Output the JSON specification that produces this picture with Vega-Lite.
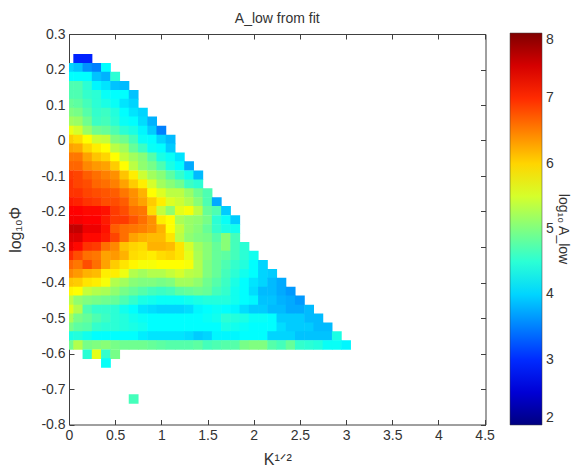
{"$schema":"https://vega.github.io/schema/vega-lite/v6.json","width":416.5,"height":390.5,"autosize":"none","padding":{"left":69,"top":34,"right":87.5,"bottom":43.5},
"title":{"text":"A_low from fit","fontSize":14,"fontWeight":"normal","font":"Liberation Sans","color":"#333","offset":1,"anchor":"middle"},
"config":{"view":{"stroke":null},"axis":{"labelFont":"Liberation Sans","titleFont":"Liberation Sans, DejaVu Sans","labelFontSize":14,"titleFontSize":16,"titleFontWeight":"normal","labelColor":"#333","titleColor":"#333","domainColor":"#404040","tickColor":"#404040","tickSize":-5,"labelPadding":9,"labelFlush":false,"grid":false}},
"data":{"values":[
{"k":0.1,"p":0.23,"v":2.95},{"k":0.2,"p":0.23,"v":2.95},
{"k":0,"p":0.205,"v":4},{"k":0.1,"p":0.205,"v":3.9},{"k":0.2,"p":0.205,"v":3.6},{"k":0.3,"p":0.205,"v":3.5},{"k":0.4,"p":0.205,"v":4.25},
{"k":0,"p":0.18,"v":4.25},{"k":0.1,"p":0.18,"v":4.25},{"k":0.2,"p":0.18,"v":4.25},{"k":0.3,"p":0.18,"v":3.9},{"k":0.4,"p":0.18,"v":3.8},{"k":0.5,"p":0.18,"v":4.5},
{"k":0,"p":0.154,"v":4.7},{"k":0.1,"p":0.154,"v":4.7},{"k":0.2,"p":0.154,"v":4.5},{"k":0.3,"p":0.154,"v":4.2},{"k":0.4,"p":0.154,"v":4.1},{"k":0.5,"p":0.154,"v":3.9},{"k":0.6,"p":0.154,"v":3.85},
{"k":0,"p":0.129,"v":4.7},{"k":0.1,"p":0.129,"v":4.7},{"k":0.2,"p":0.129,"v":4.55},{"k":0.3,"p":0.129,"v":4.5},{"k":0.4,"p":0.129,"v":4.3},{"k":0.5,"p":0.129,"v":4.25},{"k":0.6,"p":0.129,"v":4.25},{"k":0.7,"p":0.129,"v":3.9},
{"k":0,"p":0.104,"v":4.85},{"k":0.1,"p":0.104,"v":4.8},{"k":0.2,"p":0.104,"v":4.65},{"k":0.3,"p":0.104,"v":4.5},{"k":0.4,"p":0.104,"v":4.4},{"k":0.5,"p":0.104,"v":4.3},{"k":0.6,"p":0.104,"v":4.1},{"k":0.7,"p":0.104,"v":4},
{"k":0,"p":0.079,"v":5},{"k":0.1,"p":0.079,"v":4.95},{"k":0.2,"p":0.079,"v":4.75},{"k":0.3,"p":0.079,"v":4.55},{"k":0.4,"p":0.079,"v":4.6},{"k":0.5,"p":0.079,"v":4.45},{"k":0.6,"p":0.079,"v":4.25},{"k":0.7,"p":0.079,"v":4.1},{"k":0.8,"p":0.079,"v":4},
{"k":0,"p":0.054,"v":5.2},{"k":0.1,"p":0.054,"v":5.15},{"k":0.2,"p":0.054,"v":4.9},{"k":0.3,"p":0.054,"v":4.6},{"k":0.4,"p":0.054,"v":4.65},{"k":0.5,"p":0.054,"v":4.5},{"k":0.6,"p":0.054,"v":4.3},{"k":0.7,"p":0.054,"v":4.25},{"k":0.8,"p":0.054,"v":4.05},{"k":0.9,"p":0.054,"v":3.8},
{"k":0,"p":0.028,"v":5.65},{"k":0.1,"p":0.028,"v":5.5},{"k":0.2,"p":0.028,"v":5.15},{"k":0.3,"p":0.028,"v":4.9},{"k":0.4,"p":0.028,"v":4.85},{"k":0.5,"p":0.028,"v":4.7},{"k":0.6,"p":0.028,"v":4.5},{"k":0.7,"p":0.028,"v":4.4},{"k":0.8,"p":0.028,"v":4.2},{"k":0.9,"p":0.028,"v":3.95},{"k":1,"p":0.028,"v":3.5},
{"k":0,"p":0.003,"v":6.05},{"k":0.1,"p":0.003,"v":5.95},{"k":0.2,"p":0.003,"v":5.75},{"k":0.3,"p":0.003,"v":5.45},{"k":0.4,"p":0.003,"v":5.4},{"k":0.5,"p":0.003,"v":5},{"k":0.6,"p":0.003,"v":4.9},{"k":0.7,"p":0.003,"v":4.65},{"k":0.8,"p":0.003,"v":4.3},{"k":0.9,"p":0.003,"v":4.25},{"k":1,"p":0.003,"v":4},{"k":1.1,"p":0.003,"v":3.85},
{"k":0,"p":-0.022,"v":6.3},{"k":0.1,"p":-0.022,"v":6.25},{"k":0.2,"p":-0.022,"v":6},{"k":0.3,"p":-0.022,"v":5.85},{"k":0.4,"p":-0.022,"v":5.75},{"k":0.5,"p":-0.022,"v":5.35},{"k":0.6,"p":-0.022,"v":5.2},{"k":0.7,"p":-0.022,"v":4.85},{"k":0.8,"p":-0.022,"v":4.6},{"k":0.9,"p":-0.022,"v":4.3},{"k":1,"p":-0.022,"v":4.25},{"k":1.1,"p":-0.022,"v":3.95},
{"k":0,"p":-0.047,"v":6.55},{"k":0.1,"p":-0.047,"v":6.55},{"k":0.2,"p":-0.047,"v":6.3},{"k":0.3,"p":-0.047,"v":6.1},{"k":0.4,"p":-0.047,"v":6},{"k":0.5,"p":-0.047,"v":5.75},{"k":0.6,"p":-0.047,"v":5.4},{"k":0.7,"p":-0.047,"v":5.2},{"k":0.8,"p":-0.047,"v":5.05},{"k":0.9,"p":-0.047,"v":4.75},{"k":1,"p":-0.047,"v":4.4},{"k":1.1,"p":-0.047,"v":4.3},{"k":1.2,"p":-0.047,"v":4.1},
{"k":0,"p":-0.072,"v":6.65},{"k":0.1,"p":-0.072,"v":6.65},{"k":0.2,"p":-0.072,"v":6.45},{"k":0.3,"p":-0.072,"v":6.35},{"k":0.4,"p":-0.072,"v":6.3},{"k":0.5,"p":-0.072,"v":6.05},{"k":0.6,"p":-0.072,"v":5.75},{"k":0.7,"p":-0.072,"v":5.35},{"k":0.8,"p":-0.072,"v":5.1},{"k":0.9,"p":-0.072,"v":4.95},{"k":1,"p":-0.072,"v":4.7},{"k":1.1,"p":-0.072,"v":4.4},{"k":1.2,"p":-0.072,"v":4.25},{"k":1.3,"p":-0.072,"v":3.75},
{"k":0,"p":-0.098,"v":6.9},{"k":0.1,"p":-0.098,"v":6.85},{"k":0.2,"p":-0.098,"v":6.7},{"k":0.3,"p":-0.098,"v":6.6},{"k":0.4,"p":-0.098,"v":6.5},{"k":0.5,"p":-0.098,"v":6.4},{"k":0.6,"p":-0.098,"v":6.1},{"k":0.7,"p":-0.098,"v":5.85},{"k":0.8,"p":-0.098,"v":5.45},{"k":0.9,"p":-0.098,"v":5.2},{"k":1,"p":-0.098,"v":5.05},{"k":1.1,"p":-0.098,"v":4.8},{"k":1.2,"p":-0.098,"v":4.55},{"k":1.3,"p":-0.098,"v":4.35},{"k":1.4,"p":-0.098,"v":3.85},
{"k":0,"p":-0.123,"v":6.95},{"k":0.1,"p":-0.123,"v":6.85},{"k":0.2,"p":-0.123,"v":6.8},{"k":0.3,"p":-0.123,"v":6.65},{"k":0.4,"p":-0.123,"v":6.6},{"k":0.5,"p":-0.123,"v":6.5},{"k":0.6,"p":-0.123,"v":6.3},{"k":0.7,"p":-0.123,"v":6.05},{"k":0.8,"p":-0.123,"v":5.85},{"k":0.9,"p":-0.123,"v":5.5},{"k":1,"p":-0.123,"v":5.2},{"k":1.1,"p":-0.123,"v":5.05},{"k":1.2,"p":-0.123,"v":4.9},{"k":1.3,"p":-0.123,"v":4.6},{"k":1.4,"p":-0.123,"v":4.5},
{"k":0,"p":-0.148,"v":6.95},{"k":0.1,"p":-0.148,"v":6.95},{"k":0.2,"p":-0.148,"v":6.85},{"k":0.3,"p":-0.148,"v":6.8},{"k":0.4,"p":-0.148,"v":6.75},{"k":0.5,"p":-0.148,"v":6.7},{"k":0.6,"p":-0.148,"v":6.55},{"k":0.7,"p":-0.148,"v":6.4},{"k":0.8,"p":-0.148,"v":6.2},{"k":0.9,"p":-0.148,"v":5.75},{"k":1,"p":-0.148,"v":5.55},{"k":1.1,"p":-0.148,"v":5.35},{"k":1.2,"p":-0.148,"v":5.35},{"k":1.3,"p":-0.148,"v":5.15},{"k":1.4,"p":-0.148,"v":4.9},{"k":1.5,"p":-0.148,"v":4.7},
{"k":0,"p":-0.173,"v":7.1},{"k":0.1,"p":-0.173,"v":7.05},{"k":0.2,"p":-0.173,"v":6.95},{"k":0.3,"p":-0.173,"v":6.9},{"k":0.4,"p":-0.173,"v":6.8},{"k":0.5,"p":-0.173,"v":6.8},{"k":0.6,"p":-0.173,"v":6.7},{"k":0.7,"p":-0.173,"v":6.45},{"k":0.8,"p":-0.173,"v":6.3},{"k":0.9,"p":-0.173,"v":6.05},{"k":1,"p":-0.173,"v":5.85},{"k":1.1,"p":-0.173,"v":5.55},{"k":1.2,"p":-0.173,"v":5.45},{"k":1.3,"p":-0.173,"v":5.3},{"k":1.4,"p":-0.173,"v":5.05},{"k":1.5,"p":-0.173,"v":4.7},{"k":1.6,"p":-0.173,"v":3.75},
{"k":0,"p":-0.198,"v":7.25},{"k":0.1,"p":-0.198,"v":7.25},{"k":0.2,"p":-0.198,"v":7.2},{"k":0.3,"p":-0.198,"v":7.2},{"k":0.4,"p":-0.198,"v":7.15},{"k":0.5,"p":-0.198,"v":6.9},{"k":0.6,"p":-0.198,"v":6.8},{"k":0.7,"p":-0.198,"v":6.6},{"k":0.8,"p":-0.198,"v":6.55},{"k":0.9,"p":-0.198,"v":5.95},{"k":1,"p":-0.198,"v":5.4},{"k":1.1,"p":-0.198,"v":5.1},{"k":1.2,"p":-0.198,"v":5.6},{"k":1.3,"p":-0.198,"v":5.7},{"k":1.4,"p":-0.198,"v":5.35},{"k":1.5,"p":-0.198,"v":4.85},{"k":1.6,"p":-0.198,"v":4.7},{"k":1.7,"p":-0.198,"v":3.95},
{"k":0,"p":-0.224,"v":7.3},{"k":0.1,"p":-0.224,"v":7.3},{"k":0.2,"p":-0.224,"v":7.25},{"k":0.3,"p":-0.224,"v":7.25},{"k":0.4,"p":-0.224,"v":7.1},{"k":0.5,"p":-0.224,"v":6.9},{"k":0.6,"p":-0.224,"v":6.9},{"k":0.7,"p":-0.224,"v":6.75},{"k":0.8,"p":-0.224,"v":6.6},{"k":0.9,"p":-0.224,"v":6.4},{"k":1,"p":-0.224,"v":5.85},{"k":1.1,"p":-0.224,"v":5.75},{"k":1.2,"p":-0.224,"v":5.25},{"k":1.3,"p":-0.224,"v":5.15},{"k":1.4,"p":-0.224,"v":5.1},{"k":1.5,"p":-0.224,"v":4.95},{"k":1.6,"p":-0.224,"v":4.5},{"k":1.7,"p":-0.224,"v":4.3},{"k":1.8,"p":-0.224,"v":3.95},
{"k":0,"p":-0.249,"v":7.6},{"k":0.1,"p":-0.249,"v":7.6},{"k":0.2,"p":-0.249,"v":7.35},{"k":0.3,"p":-0.249,"v":7.35},{"k":0.4,"p":-0.249,"v":7.15},{"k":0.5,"p":-0.249,"v":6.7},{"k":0.6,"p":-0.249,"v":6.6},{"k":0.7,"p":-0.249,"v":6.55},{"k":0.8,"p":-0.249,"v":6.5},{"k":0.9,"p":-0.249,"v":6.4},{"k":1,"p":-0.249,"v":6.2},{"k":1.1,"p":-0.249,"v":5.75},{"k":1.2,"p":-0.249,"v":5.4},{"k":1.3,"p":-0.249,"v":5.15},{"k":1.4,"p":-0.249,"v":5.05},{"k":1.5,"p":-0.249,"v":4.85},{"k":1.6,"p":-0.249,"v":4.55},{"k":1.7,"p":-0.249,"v":4.4},{"k":1.8,"p":-0.249,"v":4.35},
{"k":0,"p":-0.274,"v":7.45},{"k":0.1,"p":-0.274,"v":7.45},{"k":0.2,"p":-0.274,"v":7.2},{"k":0.3,"p":-0.274,"v":7.2},{"k":0.4,"p":-0.274,"v":7.1},{"k":0.5,"p":-0.274,"v":6.85},{"k":0.6,"p":-0.274,"v":6.6},{"k":0.7,"p":-0.274,"v":6.3},{"k":0.8,"p":-0.274,"v":6.2},{"k":0.9,"p":-0.274,"v":6.15},{"k":1,"p":-0.274,"v":6.15},{"k":1.1,"p":-0.274,"v":5.9},{"k":1.2,"p":-0.274,"v":5.35},{"k":1.3,"p":-0.274,"v":5.1},{"k":1.4,"p":-0.274,"v":5},{"k":1.5,"p":-0.274,"v":4.95},{"k":1.6,"p":-0.274,"v":4.75},{"k":1.7,"p":-0.274,"v":5.05},{"k":1.8,"p":-0.274,"v":4.65},
{"k":0,"p":-0.299,"v":7.35},{"k":0.1,"p":-0.299,"v":7.2},{"k":0.2,"p":-0.299,"v":6.95},{"k":0.3,"p":-0.299,"v":6.9},{"k":0.4,"p":-0.299,"v":6.6},{"k":0.5,"p":-0.299,"v":6.45},{"k":0.6,"p":-0.299,"v":6.1},{"k":0.7,"p":-0.299,"v":6},{"k":0.8,"p":-0.299,"v":5.95},{"k":0.9,"p":-0.299,"v":6.2},{"k":1,"p":-0.299,"v":6.2},{"k":1.1,"p":-0.299,"v":6.15},{"k":1.2,"p":-0.299,"v":5.9},{"k":1.3,"p":-0.299,"v":5.5},{"k":1.4,"p":-0.299,"v":5.2},{"k":1.5,"p":-0.299,"v":5.05},{"k":1.6,"p":-0.299,"v":4.85},{"k":1.7,"p":-0.299,"v":5.05},{"k":1.8,"p":-0.299,"v":4.65},{"k":1.9,"p":-0.299,"v":4.5},
{"k":0,"p":-0.324,"v":7},{"k":0.1,"p":-0.324,"v":6.8},{"k":0.2,"p":-0.324,"v":6.6},{"k":0.3,"p":-0.324,"v":6.55},{"k":0.4,"p":-0.324,"v":6.3},{"k":0.5,"p":-0.324,"v":6.35},{"k":0.6,"p":-0.324,"v":6.2},{"k":0.7,"p":-0.324,"v":5.95},{"k":0.8,"p":-0.324,"v":5.9},{"k":0.9,"p":-0.324,"v":5.85},{"k":1,"p":-0.324,"v":5.95},{"k":1.1,"p":-0.324,"v":6},{"k":1.2,"p":-0.324,"v":5.9},{"k":1.3,"p":-0.324,"v":5.6},{"k":1.4,"p":-0.324,"v":5.25},{"k":1.5,"p":-0.324,"v":5.05},{"k":1.6,"p":-0.324,"v":4.85},{"k":1.7,"p":-0.324,"v":4.8},{"k":1.8,"p":-0.324,"v":4.65},{"k":1.9,"p":-0.324,"v":4.5},{"k":2,"p":-0.324,"v":4.35},
{"k":0,"p":-0.35,"v":6.65},{"k":0.1,"p":-0.35,"v":6.55},{"k":0.2,"p":-0.35,"v":6.8},{"k":0.3,"p":-0.35,"v":6.6},{"k":0.4,"p":-0.35,"v":6.3},{"k":0.5,"p":-0.35,"v":6.05},{"k":0.6,"p":-0.35,"v":5.9},{"k":0.7,"p":-0.35,"v":5.8},{"k":0.8,"p":-0.35,"v":5.7},{"k":0.9,"p":-0.35,"v":5.7},{"k":1,"p":-0.35,"v":5.75},{"k":1.1,"p":-0.35,"v":5.75},{"k":1.2,"p":-0.35,"v":5.75},{"k":1.3,"p":-0.35,"v":5.7},{"k":1.4,"p":-0.35,"v":5.3},{"k":1.5,"p":-0.35,"v":5},{"k":1.6,"p":-0.35,"v":4.85},{"k":1.7,"p":-0.35,"v":4.7},{"k":1.8,"p":-0.35,"v":4.55},{"k":1.9,"p":-0.35,"v":4.45},{"k":2,"p":-0.35,"v":4.25},{"k":2.1,"p":-0.35,"v":4},
{"k":0,"p":-0.375,"v":6.45},{"k":0.1,"p":-0.375,"v":6.35},{"k":0.2,"p":-0.375,"v":6.2},{"k":0.3,"p":-0.375,"v":6.15},{"k":0.4,"p":-0.375,"v":5.85},{"k":0.5,"p":-0.375,"v":5.85},{"k":0.6,"p":-0.375,"v":5.65},{"k":0.7,"p":-0.375,"v":5.3},{"k":0.8,"p":-0.375,"v":5.2},{"k":0.9,"p":-0.375,"v":5.3},{"k":1,"p":-0.375,"v":5.3},{"k":1.1,"p":-0.375,"v":5.4},{"k":1.2,"p":-0.375,"v":5.5},{"k":1.3,"p":-0.375,"v":5.35},{"k":1.4,"p":-0.375,"v":5.3},{"k":1.5,"p":-0.375,"v":5},{"k":1.6,"p":-0.375,"v":4.85},{"k":1.7,"p":-0.375,"v":4.65},{"k":1.8,"p":-0.375,"v":4.5},{"k":1.9,"p":-0.375,"v":4.35},{"k":2,"p":-0.375,"v":4.25},{"k":2.1,"p":-0.375,"v":4},{"k":2.2,"p":-0.375,"v":3.95},
{"k":0,"p":-0.4,"v":6.1},{"k":0.1,"p":-0.4,"v":6.05},{"k":0.2,"p":-0.4,"v":5.9},{"k":0.3,"p":-0.4,"v":5.85},{"k":0.4,"p":-0.4,"v":5.7},{"k":0.5,"p":-0.4,"v":5.3},{"k":0.6,"p":-0.4,"v":5.2},{"k":0.7,"p":-0.4,"v":5.05},{"k":0.8,"p":-0.4,"v":5},{"k":0.9,"p":-0.4,"v":5},{"k":1,"p":-0.4,"v":4.95},{"k":1.1,"p":-0.4,"v":5},{"k":1.2,"p":-0.4,"v":5.2},{"k":1.3,"p":-0.4,"v":5.2},{"k":1.4,"p":-0.4,"v":5.1},{"k":1.5,"p":-0.4,"v":4.9},{"k":1.6,"p":-0.4,"v":4.75},{"k":1.7,"p":-0.4,"v":4.6},{"k":1.8,"p":-0.4,"v":4.4},{"k":1.9,"p":-0.4,"v":4.25},{"k":2,"p":-0.4,"v":4.1},{"k":2.1,"p":-0.4,"v":4},{"k":2.2,"p":-0.4,"v":3.85},{"k":2.3,"p":-0.4,"v":3.75},
{"k":0,"p":-0.425,"v":5.8},{"k":0.1,"p":-0.425,"v":5.75},{"k":0.2,"p":-0.425,"v":5.4},{"k":0.3,"p":-0.425,"v":5.3},{"k":0.4,"p":-0.425,"v":5.25},{"k":0.5,"p":-0.425,"v":5.1},{"k":0.6,"p":-0.425,"v":4.95},{"k":0.7,"p":-0.425,"v":4.85},{"k":0.8,"p":-0.425,"v":4.75},{"k":0.9,"p":-0.425,"v":4.65},{"k":1,"p":-0.425,"v":4.6},{"k":1.1,"p":-0.425,"v":4.65},{"k":1.2,"p":-0.425,"v":4.8},{"k":1.3,"p":-0.425,"v":4.85},{"k":1.4,"p":-0.425,"v":4.9},{"k":1.5,"p":-0.425,"v":4.85},{"k":1.6,"p":-0.425,"v":4.65},{"k":1.7,"p":-0.425,"v":4.55},{"k":1.8,"p":-0.425,"v":4.35},{"k":1.9,"p":-0.425,"v":4.25},{"k":2,"p":-0.425,"v":4.05},{"k":2.1,"p":-0.425,"v":3.85},{"k":2.2,"p":-0.425,"v":3.85},{"k":2.3,"p":-0.425,"v":3.75},{"k":2.4,"p":-0.425,"v":3.65},
{"k":0,"p":-0.45,"v":5.35},{"k":0.1,"p":-0.45,"v":5.1},{"k":0.2,"p":-0.45,"v":5},{"k":0.3,"p":-0.45,"v":4.95},{"k":0.4,"p":-0.45,"v":4.9},{"k":0.5,"p":-0.45,"v":4.85},{"k":0.6,"p":-0.45,"v":4.7},{"k":0.7,"p":-0.45,"v":4.55},{"k":0.8,"p":-0.45,"v":4.4},{"k":0.9,"p":-0.45,"v":4.35},{"k":1,"p":-0.45,"v":4.3},{"k":1.1,"p":-0.45,"v":4.3},{"k":1.2,"p":-0.45,"v":4.3},{"k":1.3,"p":-0.45,"v":4.35},{"k":1.4,"p":-0.45,"v":4.4},{"k":1.5,"p":-0.45,"v":4.45},{"k":1.6,"p":-0.45,"v":4.45},{"k":1.7,"p":-0.45,"v":4.45},{"k":1.8,"p":-0.45,"v":4.35},{"k":1.9,"p":-0.45,"v":4.25},{"k":2,"p":-0.45,"v":4.2},{"k":2.1,"p":-0.45,"v":3.9},{"k":2.2,"p":-0.45,"v":3.9},{"k":2.3,"p":-0.45,"v":3.8},{"k":2.4,"p":-0.45,"v":3.75},{"k":2.5,"p":-0.45,"v":3.65},
{"k":0,"p":-0.476,"v":5.6},{"k":0.1,"p":-0.476,"v":5.3},{"k":0.2,"p":-0.476,"v":4.7},{"k":0.3,"p":-0.476,"v":4.55},{"k":0.4,"p":-0.476,"v":4.55},{"k":0.5,"p":-0.476,"v":4.5},{"k":0.6,"p":-0.476,"v":4.35},{"k":0.7,"p":-0.476,"v":4.25},{"k":0.8,"p":-0.476,"v":4.1},{"k":0.9,"p":-0.476,"v":4.05},{"k":1,"p":-0.476,"v":4},{"k":1.1,"p":-0.476,"v":4},{"k":1.2,"p":-0.476,"v":4},{"k":1.3,"p":-0.476,"v":4.05},{"k":1.4,"p":-0.476,"v":4.2},{"k":1.5,"p":-0.476,"v":4.25},{"k":1.6,"p":-0.476,"v":4.3},{"k":1.7,"p":-0.476,"v":4.25},{"k":1.8,"p":-0.476,"v":4.2},{"k":1.9,"p":-0.476,"v":4.05},{"k":2,"p":-0.476,"v":3.95},{"k":2.1,"p":-0.476,"v":3.95},{"k":2.2,"p":-0.476,"v":3.85},{"k":2.3,"p":-0.476,"v":3.85},{"k":2.4,"p":-0.476,"v":3.75},{"k":2.5,"p":-0.476,"v":3.75},{"k":2.6,"p":-0.476,"v":3.85},
{"k":0,"p":-0.501,"v":5.25},{"k":0.1,"p":-0.501,"v":4.95},{"k":0.2,"p":-0.501,"v":4.85},{"k":0.3,"p":-0.501,"v":4.7},{"k":0.4,"p":-0.501,"v":4.6},{"k":0.5,"p":-0.501,"v":4.5},{"k":0.6,"p":-0.501,"v":4.45},{"k":0.7,"p":-0.501,"v":4.35},{"k":0.8,"p":-0.501,"v":4.3},{"k":0.9,"p":-0.501,"v":4.25},{"k":1,"p":-0.501,"v":4.25},{"k":1.1,"p":-0.501,"v":4.25},{"k":1.2,"p":-0.501,"v":4.25},{"k":1.3,"p":-0.501,"v":4.25},{"k":1.4,"p":-0.501,"v":4.25},{"k":1.5,"p":-0.501,"v":4.3},{"k":1.6,"p":-0.501,"v":4.35},{"k":1.7,"p":-0.501,"v":4.5},{"k":1.8,"p":-0.501,"v":4.45},{"k":1.9,"p":-0.501,"v":4.4},{"k":2,"p":-0.501,"v":4.3},{"k":2.1,"p":-0.501,"v":4.3},{"k":2.2,"p":-0.501,"v":4.25},{"k":2.3,"p":-0.501,"v":3.95},{"k":2.4,"p":-0.501,"v":3.95},{"k":2.5,"p":-0.501,"v":3.95},{"k":2.6,"p":-0.501,"v":3.85},{"k":2.7,"p":-0.501,"v":3.85},
{"k":0,"p":-0.526,"v":4.95},{"k":0.1,"p":-0.526,"v":4.8},{"k":0.2,"p":-0.526,"v":4.75},{"k":0.3,"p":-0.526,"v":4.55},{"k":0.4,"p":-0.526,"v":4.5},{"k":0.5,"p":-0.526,"v":4.5},{"k":0.6,"p":-0.526,"v":4.45},{"k":0.7,"p":-0.526,"v":4.4},{"k":0.8,"p":-0.526,"v":4.35},{"k":0.9,"p":-0.526,"v":4.25},{"k":1,"p":-0.526,"v":4.25},{"k":1.1,"p":-0.526,"v":4.25},{"k":1.2,"p":-0.526,"v":4.25},{"k":1.3,"p":-0.526,"v":4.25},{"k":1.4,"p":-0.526,"v":4.25},{"k":1.5,"p":-0.526,"v":4.25},{"k":1.6,"p":-0.526,"v":4.25},{"k":1.7,"p":-0.526,"v":4.4},{"k":1.8,"p":-0.526,"v":4.35},{"k":1.9,"p":-0.526,"v":4.3},{"k":2,"p":-0.526,"v":4.25},{"k":2.1,"p":-0.526,"v":4.25},{"k":2.2,"p":-0.526,"v":4.25},{"k":2.3,"p":-0.526,"v":4.05},{"k":2.4,"p":-0.526,"v":3.95},{"k":2.5,"p":-0.526,"v":3.95},{"k":2.6,"p":-0.526,"v":3.95},{"k":2.7,"p":-0.526,"v":3.85},{"k":2.8,"p":-0.526,"v":3.85},
{"k":0,"p":-0.551,"v":4.4},{"k":0.1,"p":-0.551,"v":4.45},{"k":0.2,"p":-0.551,"v":4.35},{"k":0.3,"p":-0.551,"v":4.25},{"k":0.4,"p":-0.551,"v":4.25},{"k":0.5,"p":-0.551,"v":4.25},{"k":0.6,"p":-0.551,"v":4.25},{"k":0.7,"p":-0.551,"v":4.25},{"k":0.8,"p":-0.551,"v":4.15},{"k":0.9,"p":-0.551,"v":4.1},{"k":1,"p":-0.551,"v":4.1},{"k":1.1,"p":-0.551,"v":4.1},{"k":1.2,"p":-0.551,"v":4.1},{"k":1.3,"p":-0.551,"v":4.05},{"k":1.4,"p":-0.551,"v":3.95},{"k":1.5,"p":-0.551,"v":4},{"k":1.6,"p":-0.551,"v":4.2},{"k":1.7,"p":-0.551,"v":4.2},{"k":1.8,"p":-0.551,"v":4.2},{"k":1.9,"p":-0.551,"v":4.25},{"k":2,"p":-0.551,"v":4.25},{"k":2.1,"p":-0.551,"v":4.25},{"k":2.2,"p":-0.551,"v":4},{"k":2.3,"p":-0.551,"v":4},{"k":2.4,"p":-0.551,"v":4},{"k":2.5,"p":-0.551,"v":3.9},{"k":2.6,"p":-0.551,"v":3.9},{"k":2.7,"p":-0.551,"v":3.9},{"k":2.8,"p":-0.551,"v":3.9},{"k":2.9,"p":-0.551,"v":4.4},
{"k":0,"p":-0.576,"v":4.9},{"k":0.1,"p":-0.576,"v":5.3},{"k":0.2,"p":-0.576,"v":4.95},{"k":0.3,"p":-0.576,"v":5},{"k":0.4,"p":-0.576,"v":5.05},{"k":0.5,"p":-0.576,"v":4.95},{"k":0.6,"p":-0.576,"v":4.9},{"k":0.7,"p":-0.576,"v":4.9},{"k":0.8,"p":-0.576,"v":4.9},{"k":0.9,"p":-0.576,"v":4.85},{"k":1,"p":-0.576,"v":4.8},{"k":1.1,"p":-0.576,"v":4.75},{"k":1.2,"p":-0.576,"v":4.75},{"k":1.3,"p":-0.576,"v":4.75},{"k":1.4,"p":-0.576,"v":4.8},{"k":1.5,"p":-0.576,"v":4.65},{"k":1.6,"p":-0.576,"v":4.7},{"k":1.7,"p":-0.576,"v":4.75},{"k":1.8,"p":-0.576,"v":4.75},{"k":1.9,"p":-0.576,"v":4.95},{"k":2,"p":-0.576,"v":5},{"k":2.1,"p":-0.576,"v":5},{"k":2.2,"p":-0.576,"v":4.75},{"k":2.3,"p":-0.576,"v":4.65},{"k":2.4,"p":-0.576,"v":4.85},{"k":2.5,"p":-0.576,"v":4.55},{"k":2.6,"p":-0.576,"v":4.5},{"k":2.7,"p":-0.576,"v":4.45},{"k":2.8,"p":-0.576,"v":4.3},{"k":2.9,"p":-0.576,"v":4.3},{"k":3,"p":-0.576,"v":4.2},
{"k":0.2,"p":-0.602,"v":4.5},{"k":0.3,"p":-0.602,"v":5.6},{"k":0.4,"p":-0.602,"v":4.55},{"k":0.5,"p":-0.602,"v":4.95},
{"k":0.4,"p":-0.627,"v":4.3},
{"k":0.7,"p":-0.728,"v":4.65}
]},
"layer":[
{"mark":{"type":"rect","width":9.8,"height":9.5,"clip":true},
"encoding":{
"x":{"field":"k","type":"quantitative","scale":{"domain":[0,4.51],"nice":false,"zero":false},"axis":{"values":[0,0.5,1,1.5,2,2.5,3,3.5,4,4.5],"labelExpr":"datum.value","title":"K¹ᐟ²","titlePadding":9}},
"y":{"field":"p","type":"quantitative","scale":{"domain":[-0.8,0.3],"nice":false,"zero":false},"axis":{"values":[-0.8,-0.7,-0.6,-0.5,-0.4,-0.3,-0.2,-0.1,0,0.1,0.2,0.3],"labelExpr":"datum.value","title":"log₁₀Φ","titlePadding":17}},
"color":{"field":"v","type":"quantitative","scale":{"domain":[2,2.75,4.25,5.75,7.25,8],"range":["#000080","#0000ff","#00ffff","#ffff00","#ff0000","#800000"],"clamp":true,"interpolate":"rgb"},
"legend":{"orient":"none","legendX":441,"legendY":-1,"direction":"vertical","gradientLength":392,"gradientThickness":32,"values":[2,3,4,5,6,7,8],"labelFont":"Liberation Sans","labelFontSize":14,"labelColor":"#333","labelOffset":4,"labelOverlap":false,"gradientStrokeColor":"#404040","gradientStrokeWidth":0.5,"title":"log₁₀ A_low","titleOrient":"right","titleAnchor":"middle","titleBaseline":"bottom","titleFont":"Liberation Sans, DejaVu Sans","titleFontSize":14,"titleFontWeight":"normal","titleColor":"#333","titlePadding":2,
"encoding":{"title":{"update":{"angle":{"value":-90}}}}}}
}},
{"mark":{"type":"point","opacity":0},
"encoding":{
"x":{"field":"k","type":"quantitative","axis":{"orient":"top","values":[0,0.5,1,1.5,2,2.5,3,3.5,4,4.5],"labels":false,"title":null}},
"y":{"field":"p","type":"quantitative","axis":{"orient":"right","values":[-0.8,-0.7,-0.6,-0.5,-0.4,-0.3,-0.2,-0.1,0,0.1,0.2,0.3],"labels":false,"title":null}}
}}
],
"resolve":{"axis":{"x":"independent","y":"independent"}}
}
